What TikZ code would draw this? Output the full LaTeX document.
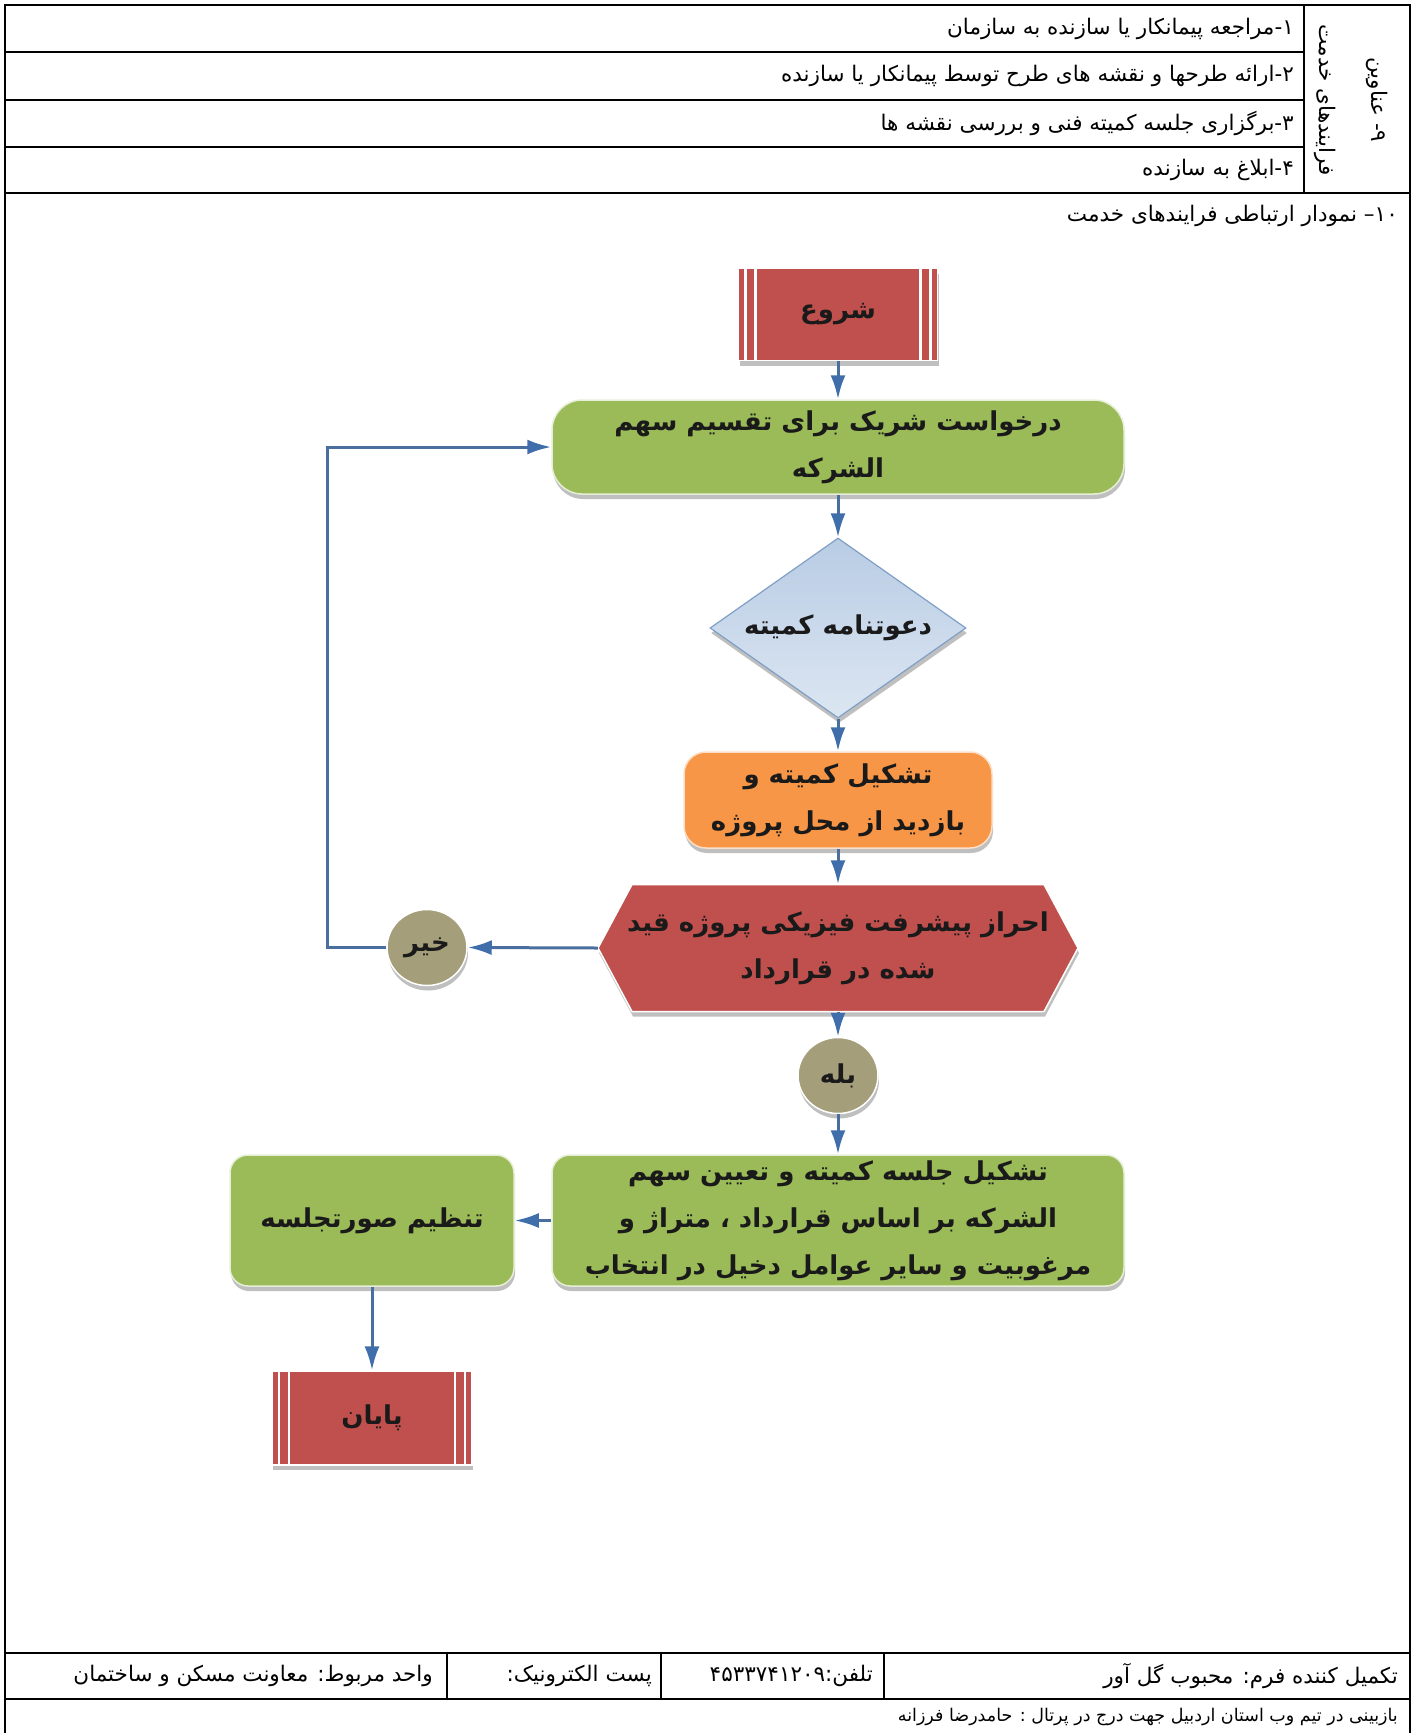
\documentclass[tikz,border=0pt]{standalone}
\usepackage{fontspec}
\setmainfont{DejaVu Sans}
\newfontfamily\fa[Script=Arabic]{DejaVu Sans}
\TeXXeTstate=1
\usetikzlibrary{arrows.meta,shapes.geometric,shadows,calc}
\newcommand{\RL}[1]{\beginR #1\endR}
\newcommand{\LRn}[1]{\beginL #1\endL}
\definecolor{fred}{HTML}{C0504D}
\definecolor{fgreen}{HTML}{9BBB59}
\definecolor{forange}{HTML}{F79646}
\definecolor{folive}{HTML}{A59E7B}
\definecolor{diatop}{HTML}{B8CCE4}
\definecolor{diabot}{HTML}{DCE6F2}
\definecolor{diaedge}{HTML}{7F9FC6}
\definecolor{arrline}{HTML}{4A6F9E}
\definecolor{arrhead}{HTML}{3F6EAA}
\definecolor{txt}{HTML}{1A1A1A}
\begin{document}
\begin{tikzpicture}[x=1pt,y=-1pt,
  tbl/.style={draw=black,line width=1.8pt},
  hdr/.style={font=\fa\fontsize{21.5}{26}\selectfont, inner sep=0pt, text=black},
  small/.style={font=\fa\fontsize{17.5}{22}\selectfont, inner sep=0pt, text=black},
  shad/.style={drop shadow={shadow xshift=1pt,shadow yshift=-5pt,opacity=0.25,fill=black}},
  flowtxt/.style={font=\fa\bfseries\fontsize{26}{47}\selectfont, text=txt, align=center},
  termbox/.style={rectangle, fill=fred, draw=white, line width=1.2pt, inner sep=0pt, shad, flowtxt},
  procbox/.style={rectangle, fill=fgreen, draw=fgreen!25, line width=1.5pt, inner sep=0pt, shad, flowtxt},
  decision/.style={ellipse, fill=folive, draw=white, line width=1.5pt, minimum width=80pt, minimum height=76pt, inner sep=0pt, shad, flowtxt},
  arr/.style={draw=arrline, line width=3pt, -{Latex[length=24pt,width=15pt,color=arrhead]}},
  stripe/.style={draw=white, line width=2.5pt}
]
\useasboundingbox (0,0) rectangle (1414,1733);
% ---------- table frame ----------
\draw[tbl] (5,1733) -- (5,5) -- (1410,5) -- (1410,1733);
\draw[tbl] (5,52) -- (1304,52);
\draw[tbl] (5,100) -- (1304,100);
\draw[tbl] (5,147) -- (1304,147);
\draw[tbl] (1304,5) -- (1304,193);
\draw[tbl] (5,193) -- (1410,193);
\draw[tbl] (5,1653) -- (1410,1653);
\draw[tbl] (5,1699) -- (1410,1699);
\draw[tbl] (447,1653) -- (447,1699);
\draw[tbl] (661,1653) -- (661,1699);
\draw[tbl] (884,1653) -- (884,1699);
% ---------- header texts ----------
\node[hdr, anchor=east] (s1) at (1294,28.5) {\RL{۱-مراجعه پیمانکار یا سازنده به سازمان}};
\node[hdr, anchor=east] (s2) at (1294,76) {\RL{۲-ارائه طرحها و نقشه های طرح توسط پیمانکار یا سازنده}};
\node[hdr, anchor=east] (s3) at (1294,123.5) {\RL{۳-برگزاری جلسه کمیته فنی و بررسی نقشه ها}};
\node[hdr, anchor=east] (s4) at (1294,170) {\RL{۴-ابلاغ به سازنده}};
\node[hdr, rotate=-90] (colA) at (1377,100) {\RL{۹- عناوین}};
\node[hdr, rotate=-90] (colB) at (1325,100) {\RL{فرایندهای خدمت}};
\node[hdr, anchor=east] (title) at (1398,216) {\RL{\LRn{۱۰}– نمودار ارتباطی فرایندهای خدمت}};
% ---------- footer texts ----------
\node[hdr, anchor=east] (f1) at (1398,1676) {\RL{تکمیل کننده فرم: محبوب گل آور}};
\node[hdr, anchor=east] (f2) at (873,1676) {\RL{تلفن:\LRn{۴۵۳۳۷۴۱۲۰۹}}};
\node[hdr, anchor=east] (f3) at (652,1676) {\RL{پست الکترونیک:}};
\node[hdr, anchor=east] (f4) at (433,1676) {\RL{واحد مربوط: معاونت مسکن و ساختمان}};
\node[small, anchor=east] (f5) at (1398,1717) {\RL{بازبینی در تیم وب استان اردبیل جهت درج در پرتال : حامدرضا فرزانه}};
% ---------- flowchart ----------
\node[termbox, minimum width=199pt, minimum height=92pt] (start) at (838,314.5) {\RL{شروع}};
\node[procbox, rounded corners=30pt, minimum width=572pt, minimum height=94pt] (req) at (838,447) {\RL{درخواست شریک برای تقسیم سهم}\\\RL{الشرکه}};
\node[diamond, minimum width=256pt, minimum height=180pt, inner sep=0pt, draw=diaedge, line width=1.2pt, top color=diatop, bottom color=diabot, shad, flowtxt] (inv) at (838,628) {\makebox[0pt]{\RL{دعوتنامه کمیته}}};
\node[procbox, fill=forange, draw=forange!30, rounded corners=22pt, minimum width=308pt, minimum height=96pt] (visit) at (838,800) {\RL{تشکیل کمیته و}\\\RL{بازدید از محل پروژه}};
\path[fill=fred, draw=white, line width=1.5pt, shad] (598,948) -- (632,884.5) -- (1044,884.5) -- (1078,948) -- (1044,1011.5) -- (632,1011.5) -- cycle;
\node[flowtxt, minimum width=480pt, minimum height=127pt, inner sep=0pt] (chk) at (838,948) {\RL{احراز پیشرفت فیزیکی پروژه قید}\\\RL{شده در قرارداد}};
\node[decision] (no) at (427,947.5) {\RL{خیر}};
\node[decision] (yes) at (838,1075.5) {\RL{بله}};
\node[procbox, rounded corners=18pt, minimum width=572pt, minimum height=131pt] (meet) at (838,1220.5) {\RL{تشکیل جلسه کمیته و تعیین سهم}\\\RL{الشرکه بر اساس قرارداد ، متراژ و}\\\RL{مرغوبیت و سایر عوامل دخیل در انتخاب}};
\node[procbox, rounded corners=18pt, minimum width=284pt, minimum height=131pt] (minutes) at (372,1220.5) {\RL{تنظیم صورتجلسه}};
\node[termbox, minimum width=200pt, minimum height=94pt] (finish) at (372,1418) {\RL{پایان}};
\foreach \n in {start,finish}{
  \draw[stripe] ($(\n.north west)+(7.5,0)$) -- ($(\n.south west)+(7.5,0)$);
  \draw[stripe] ($(\n.north west)+(17.5,0)$) -- ($(\n.south west)+(17.5,0)$);
  \draw[stripe] ($(\n.north east)+(-7.5,0)$) -- ($(\n.south east)+(-7.5,0)$);
  \draw[stripe] ($(\n.north east)+(-17.5,0)$) -- ($(\n.south east)+(-17.5,0)$);
}
\coordinate (loop) at (327,947.5);
% ---------- connectors ----------
\draw[arr] (start.south) -- (req.north);
\draw[arr] (req.south) -- (inv.north);
\draw[arr] (inv.south) -- (visit.north);
\draw[arr] (visit.south) -- (chk.north);
\draw[arr] (chk.west) -- (no.east);
\draw[arr] (no.west) -- (loop) |- (req.west);
\draw[arr] (chk.south) -- (yes.north);
\draw[arr] (yes.south) -- (meet.north);
\draw[arr] (meet.west) -- (minutes.east);
\draw[arr] (minutes.south) -- (finish.north);
\end{tikzpicture}
\end{document}
